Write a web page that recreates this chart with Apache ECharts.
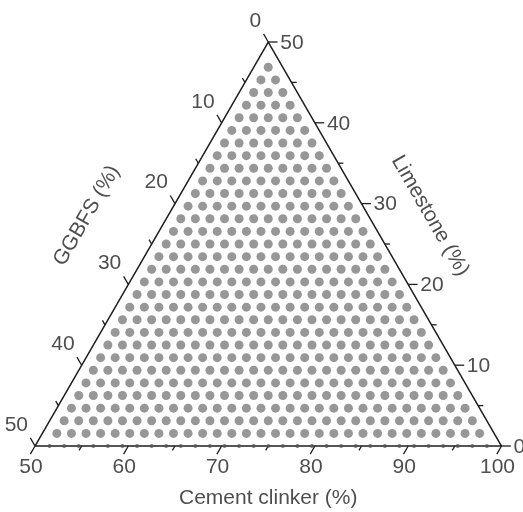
<!DOCTYPE html>
<html>
<head>
<meta charset="utf-8">
<script src="https://cdn.jsdelivr.net/npm/echarts@6/dist/echarts.min.js"></script>
<style>
  html, body { margin: 0; background: #fff; }
  #chart { width: 523px; height: 512px; }
</style>
</head>
<body>
<div id="chart"></div>
<script>
// composition grid (%): 30 rows, 1.5625 % apart
const ggbfsLevels = [1.5625, 3.125, 4.6875, 6.25, 7.8125, 9.375, 10.9375, 12.5, 14.0625, 15.625,
  17.1875, 18.75, 20.3125, 21.875, 23.4375, 25, 26.5625, 28.125, 29.6875, 31.25,
  32.8125, 34.375, 35.9375, 37.5, 39.0625, 40.625, 42.1875, 43.75, 45.3125, 46.875];
const limestoneLevels = [1.5625, 3.125, 4.6875, 6.25, 7.8125, 9.375, 10.9375, 12.5, 14.0625, 15.625,
  17.1875, 18.75, 20.3125, 21.875, 23.4375, 25, 26.5625, 28.125, 29.6875, 31.25,
  32.8125, 34.375, 35.9375, 37.5, 39.0625, 40.625, 42.1875, 43.75, 45.3125, 46.875];
// points sitting on the bottom edge (limestone = 0)
const edgeGgbfs = [1.5625, 3.125, 4.6875, 6.25, 7.8125, 9.375, 10.9375, 12.5, 14.0625, 15.625,
  17.1875, 18.75, 20.3125, 21.875, 23.4375, 25, 26.5625, 28.125, 29.6875, 31.25,
  32.8125, 34.375, 35.9375, 37.5, 39.0625, 40.625, 42.1875, 43.75, 45.3125, 46.875, 48.4375];

const clinkerTicks = [50, 60, 70, 80, 90, 100];
const clinkerMinor = [55, 65, 75, 85, 95];
const ggbfsTicks = [0, 10, 20, 30, 40, 50];
const ggbfsMinor = [5, 15, 25, 35, 45];
const limestoneTicks = [50, 40, 30, 20, 10, 0];
const limestoneMinor = [45, 35, 25, 15, 5];

const H = Math.sqrt(3) / 2;
const FONT = 'Liberation Sans, Arial, sans-serif';
const INK = '#1e1e1e';

// ternary (clinker, ggbfs, limestone) -> plane, bottom edge 0..50
function toXY(c, g, l) {
  return [(c - 50) + l / 2, l * H];
}

var dots = [];
limestoneLevels.forEach(function (l) {
  ggbfsLevels.forEach(function (g) {
    if (g + l < 50) dots.push(toXY(100 - g - l, g, l));
  });
});
var edgeDots = edgeGgbfs.map(function (g) { return toXY(100 - g, g, 0); });

// tick segments [x0, y0, x1, y1], each drawn outward along the grid line
var ticks = [];
function clinkerTick(c, len) {
  var a = toXY(c, 100 - c, 0), b = toXY(c, 100 - c + len, -len);
  ticks.push([a[0], a[1], b[0], b[1]]);
}
function ggbfsTick(g, len) {
  var a = toXY(50, g, 50 - g), b = toXY(50 - len, g, 50 - g + len);
  ticks.push([a[0], a[1], b[0], b[1]]);
}
function limestoneTick(l, len) {
  var a = toXY(100 - l, 0, l), b = toXY(100 - l + len, -len, l);
  ticks.push([a[0], a[1], b[0], b[1]]);
}
clinkerTicks.forEach(function (v) { clinkerTick(v, 1); });
clinkerMinor.forEach(function (v) { clinkerTick(v, 0.55); });
ggbfsTicks.forEach(function (v) { ggbfsTick(v, 1); });
ggbfsMinor.forEach(function (v) { ggbfsTick(v, 0.55); });
limestoneTicks.forEach(function (v) { limestoneTick(v, 1); });
limestoneMinor.forEach(function (v) { limestoneTick(v, 0.55); });

var frame = [toXY(50, 50, 0), toXY(100, 0, 0), toXY(50, 0, 50), toXY(50, 50, 0)];

function labelSeries(items, label) {
  return {
    type: 'scatter',
    symbolSize: 1,
    silent: true,
    itemStyle: { color: 'transparent' },
    data: items,
    label: Object.assign({
      show: true,
      formatter: '{b}',
      position: 'inside',
      fontFamily: FONT,
      fontSize: 21,
      color: '#222',
      verticalAlign: 'middle'
    }, label),
    z: 5
  };
}

var chart = echarts.init(document.getElementById('chart'));
chart.setOption({
  animation: false,
  grid: { left: 35, right: 21.5, top: 42, bottom: 66 },
  xAxis: { type: 'value', min: 0, max: 50, show: false },
  yAxis: { type: 'value', min: 0, max: 50 * H, show: false },
  series: [
    {
      type: 'scatter',
      data: dots,
      symbolSize: 9,
      itemStyle: { color: '#7d7d7d' },
      silent: true
    },
    {
      type: 'line',
      data: frame,
      symbol: 'none',
      clip: false,
      lineStyle: { color: INK, width: 1.5 },
      silent: true,
      z: 3
    },
    {
      type: 'scatter',
      data: edgeDots,
      symbolSize: 4,
      itemStyle: { color: '#555' },
      silent: true,
      z: 4
    },
    {
      type: 'custom',
      data: ticks,
      encode: { x: [0, 2], y: [1, 3] },
      clip: false,
      silent: true,
      z: 4,
      renderItem: function (params, api) {
        var a = api.coord([api.value(0), api.value(1)]);
        var b = api.coord([api.value(2), api.value(3)]);
        return {
          type: 'line',
          shape: { x1: a[0], y1: a[1], x2: b[0], y2: b[1] },
          style: { stroke: INK, lineWidth: 1.3 }
        };
      }
    },
    labelSeries(clinkerTicks.map(function (c) {
      return { name: String(c), value: toXY(c, 100 - c, 0) };
    }), { align: 'center', offset: [-4, 21] }),
    labelSeries(ggbfsTicks.map(function (g) {
      return { name: String(g), value: toXY(50, g, 50 - g) };
    }), { align: 'right', offset: [-7, -21] }),
    labelSeries(limestoneTicks.map(function (l) {
      return { name: String(l), value: toXY(100 - l, 0, l) };
    }), { align: 'left', offset: [12, 1] }),
    // axis titles, anchored outside the triangle
    labelSeries([{ name: 'Cement clinker (%)', value: toXY(75, 25, 0) }],
      { align: 'center', offset: [0, 52] }),
    labelSeries([{ name: 'GGBFS (%)', value: toXY(41.3, 30.2, 28.5) }],
      { align: 'center', rotate: 60 }),
    labelSeries([{ name: 'Limestone (%)', value: toXY(78.1, -6.6, 28.5) }],
      { align: 'center', rotate: -60 })
  ]
});
window.addEventListener('resize', function () { chart.resize(); });
</script>
</body>
</html>
